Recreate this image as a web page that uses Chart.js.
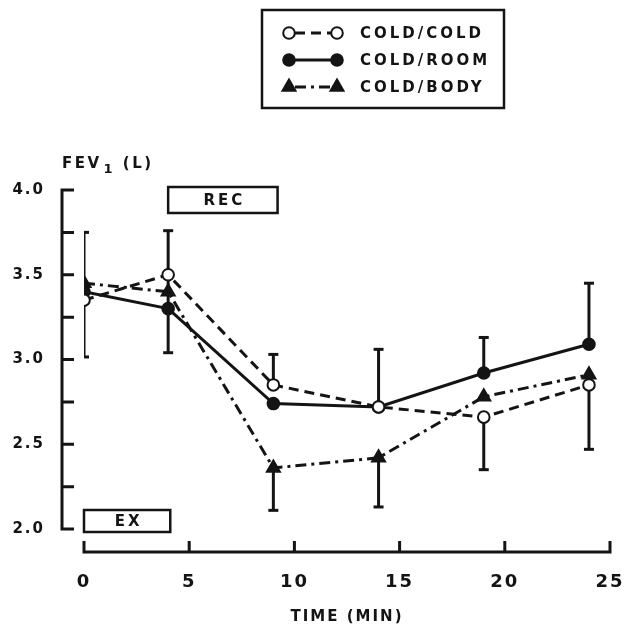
<!DOCTYPE html>
<html><head><meta charset="utf-8">
<script src="https://cdn.jsdelivr.net/npm/chart.js@4.4.1/dist/chart.umd.min.js"></script>
<style>html,body{margin:0;padding:0;background:#fff;overflow:hidden}#wrap{width:627px;height:624px;position:relative}</style>
</head><body><div id="wrap"><canvas id="c"></canvas></div>
<script>
// ---- data ----
const times = [0, 4, 9, 14, 19, 24];
const coldCold = [3.35, 3.50, 2.85, 2.72, 2.66, 2.85];
const coldRoom = [3.40, 3.30, 2.74, 2.72, 2.92, 3.09];
const coldBody = [3.45, 3.40, 2.36, 2.42, 2.78, 2.91];
const seriesLabels = ['COLD/COLD', 'COLD/ROOM', 'COLD/BODY'];
const xTicks = [0, 5, 10, 15, 20, 25];
const yTickLabels = ['2.0', '', '2.5', '', '3.0', '', '3.5', '', '4.0'];
const errTime = [0, 4, 9, 9, 14, 14, 19, 19, 24, 24];
const errLow  = [3.015, 3.04, 2.85, 2.11, 2.72, 2.13, 2.92, 2.35, 3.09, 2.47];
const errHigh = [3.75, 3.76, 3.03, 2.36, 3.06, 2.42, 3.13, 2.66, 3.45, 2.85];
const errCapLow  = [true, true, false, true, false, true, false, true, false, true];
const errCapHigh = [true, true, true, false, true, false, true, false, true, false];
const phaseLabels = ['EX', 'REC'];
const phaseStart = [0, 4];
const phaseEnd = [4.1, 9.2];
const yAxisTitle = ['FEV', '1', ' (L)'];
const xAxisTitle = 'TIME (MIN)';

const INK = '#141414';
const FONT = '"DejaVu Sans", "Liberation Sans", sans-serif';

const pts = arr => times.map((t, i) => ({x: t, y: arr[i]}));

const errSets = errTime.map((t, i) => ({
  label: '_err' + i,
  data: [{x: t, y: errLow[i]}, {x: t, y: errHigh[i]}],
  showLine: true, borderColor: INK, borderWidth: 3,
  pointStyle: 'line', pointRadius: [errCapLow[i] ? 5 : 0, errCapHigh[i] ? 5 : 0],
  pointBorderWidth: 3, pointBorderColor: INK, pointBackgroundColor: INK,
  order: 10
}));

const mainSets = [
  {label: seriesLabels[0], data: pts(coldCold), borderDash: [10, 6], pointStyle: 'circle',
   pointRadius: 5.8, pointBackgroundColor: '#fff', order: 0},
  {label: seriesLabels[1], data: pts(coldRoom), borderDash: [], pointStyle: 'circle',
   pointRadius: 5.8, pointBackgroundColor: INK, order: 1},
  {label: seriesLabels[2], data: pts(coldBody), borderDash: [11, 5, 3, 5], pointStyle: 'triangle',
   pointRadius: 7.5, pointBackgroundColor: INK, order: 2}
].map(d => Object.assign({showLine: true, borderColor: INK, borderWidth: 3, tension: 0,
  pointBorderColor: INK, pointBorderWidth: 2}, d));

function drawMarker(ctx, style, x, y, r) {
  ctx.beginPath();
  if (style === 'triangle') {
    let rad = 0;
    ctx.moveTo(x + Math.sin(rad) * r, y - Math.cos(rad) * r);
    rad += 2 * Math.PI / 3;
    ctx.lineTo(x + Math.sin(rad) * r, y - Math.cos(rad) * r);
    rad += 2 * Math.PI / 3;
    ctx.lineTo(x + Math.sin(rad) * r, y - Math.cos(rad) * r);
    ctx.closePath();
  } else {
    ctx.arc(x, y, r, 0, Math.PI * 2);
  }
  ctx.fill(); ctx.stroke();
}

const decorPlugin = {
  id: 'decor',
  beforeDraw(chart) { chart.ctx.letterSpacing = '2px'; },
  afterDraw(chart) {
    const {ctx, scales: {x, y}} = chart;
    ctx.save();
    ctx.strokeStyle = INK; ctx.fillStyle = INK; ctx.lineWidth = 3; ctx.lineJoin = 'miter';
    // y axis (detached, ticks inward)
    const ax = x.getPixelForValue(x.min) - 22;
    const yTop = y.getPixelForValue(y.max), yBot = y.getPixelForValue(y.min);
    ctx.beginPath();
    ctx.moveTo(ax + 12, yTop); ctx.lineTo(ax, yTop); ctx.lineTo(ax, yBot); ctx.lineTo(ax + 12, yBot);
    y.ticks.forEach(t => { const py = y.getPixelForValue(t.value); ctx.moveTo(ax, py); ctx.lineTo(ax + 12, py); });
    ctx.stroke();
    // x axis (detached, ticks upward)
    const ay = yBot + 23;
    const xl = x.getPixelForValue(x.min), xr = x.getPixelForValue(x.max);
    ctx.beginPath();
    ctx.moveTo(xl, ay - 11); ctx.lineTo(xl, ay); ctx.lineTo(xr, ay); ctx.lineTo(xr, ay - 11);
    x.ticks.forEach(t => { const px = x.getPixelForValue(t.value); ctx.moveTo(px, ay); ctx.lineTo(px, ay - 11); });
    ctx.stroke();

    // y axis title FEV1 (L)
    ctx.textBaseline = 'alphabetic'; ctx.textAlign = 'left';
    ctx.letterSpacing = '2.5px';
    ctx.font = 'bold 15px ' + FONT;
    let tx = ax;
    const tb = yTop - 22;
    ctx.fillText(yAxisTitle[0], tx, tb); tx += ctx.measureText(yAxisTitle[0]).width + 2;
    ctx.font = 'bold 13px ' + FONT;
    ctx.fillText(yAxisTitle[1], tx, tb + 5); tx += ctx.measureText(yAxisTitle[1]).width;
    ctx.font = 'bold 15px ' + FONT;
    ctx.fillText(yAxisTitle[2], tx, tb);

    // phase boxes
    ctx.letterSpacing = '3px';
    ctx.font = 'bold 15px ' + FONT;
    ctx.textAlign = 'center'; ctx.textBaseline = 'middle';
    ctx.lineWidth = 2.5;
    phaseLabels.forEach((lab, i) => {
      const l = x.getPixelForValue(phaseStart[i]), r = x.getPixelForValue(phaseEnd[i]);
      let t, b;
      if (i === 0) { t = yBot - 19; b = yBot + 3; } else { t = yTop - 3; b = yTop + 23; }
      ctx.strokeRect(l, t, r - l, b - t);
      ctx.fillText(lab, (l + r) / 2 + 1.5, (t + b) / 2 + 1);
    });

    // legend
    ctx.lineWidth = 2.5;
    ctx.strokeRect(262, 10, 242, 98);
    ctx.textAlign = 'left';
    mainSets.forEach((d, i) => {
      const cy = 33 + i * 27;
      ctx.save();
      ctx.lineWidth = 3;
      ctx.setLineDash(d.borderDash);
      ctx.lineDashOffset = -6;
      ctx.beginPath(); ctx.moveTo(289, cy); ctx.lineTo(337, cy); ctx.stroke();
      ctx.setLineDash([]);
      ctx.lineWidth = 2;
      ctx.fillStyle = d.pointBackgroundColor;
      drawMarker(ctx, d.pointStyle, 289, cy, d.pointRadius);
      drawMarker(ctx, d.pointStyle, 337, cy, d.pointRadius);
      ctx.restore();
      ctx.fillText(d.label, 360, cy + 1);
    });
    ctx.restore();
  }
};

new Chart(document.getElementById('c'), {
  type: 'scatter',
  data: {datasets: mainSets.concat(errSets)},
  options: {
    responsive: true, maintainAspectRatio: false, animation: false, devicePixelRatio: 1,
    layout: {padding: {left: 0, top: 190, right: 17, bottom: 0}},
    plugins: {legend: {display: false}, tooltip: {enabled: false}},
    scales: {
      x: {
        type: 'linear', min: 0, max: 25,
        afterBuildTicks(s) { s.ticks = xTicks.map(v => ({value: v})); },
        afterFit(s) { s.height = 95; },
        ticks: {font: {family: FONT, size: 18, weight: 'bold'}, color: INK, padding: 0, maxRotation: 0, autoSkip: false},
        grid: {display: true, drawOnChartArea: false, drawTicks: true, tickLength: 43, color: 'rgba(0,0,0,0)'},
        border: {display: false},
        title: {display: true, text: xAxisTitle, color: INK, font: {family: FONT, size: 15, weight: 'bold'}, padding: {top: 0, bottom: -2}}
      },
      y: {
        type: 'linear', min: 2, max: 4,
        afterFit(s) { s.width = 84; },
        ticks: {stepSize: 0.25, autoSkip: false, callback: (v, i) => yTickLabels[i],
          font: {family: FONT, size: 15, weight: 'bold'}, color: INK, padding: 31},
        grid: {display: false}, border: {display: false}
      }
    }
  },
  plugins: [decorPlugin]
});
</script></body></html>
